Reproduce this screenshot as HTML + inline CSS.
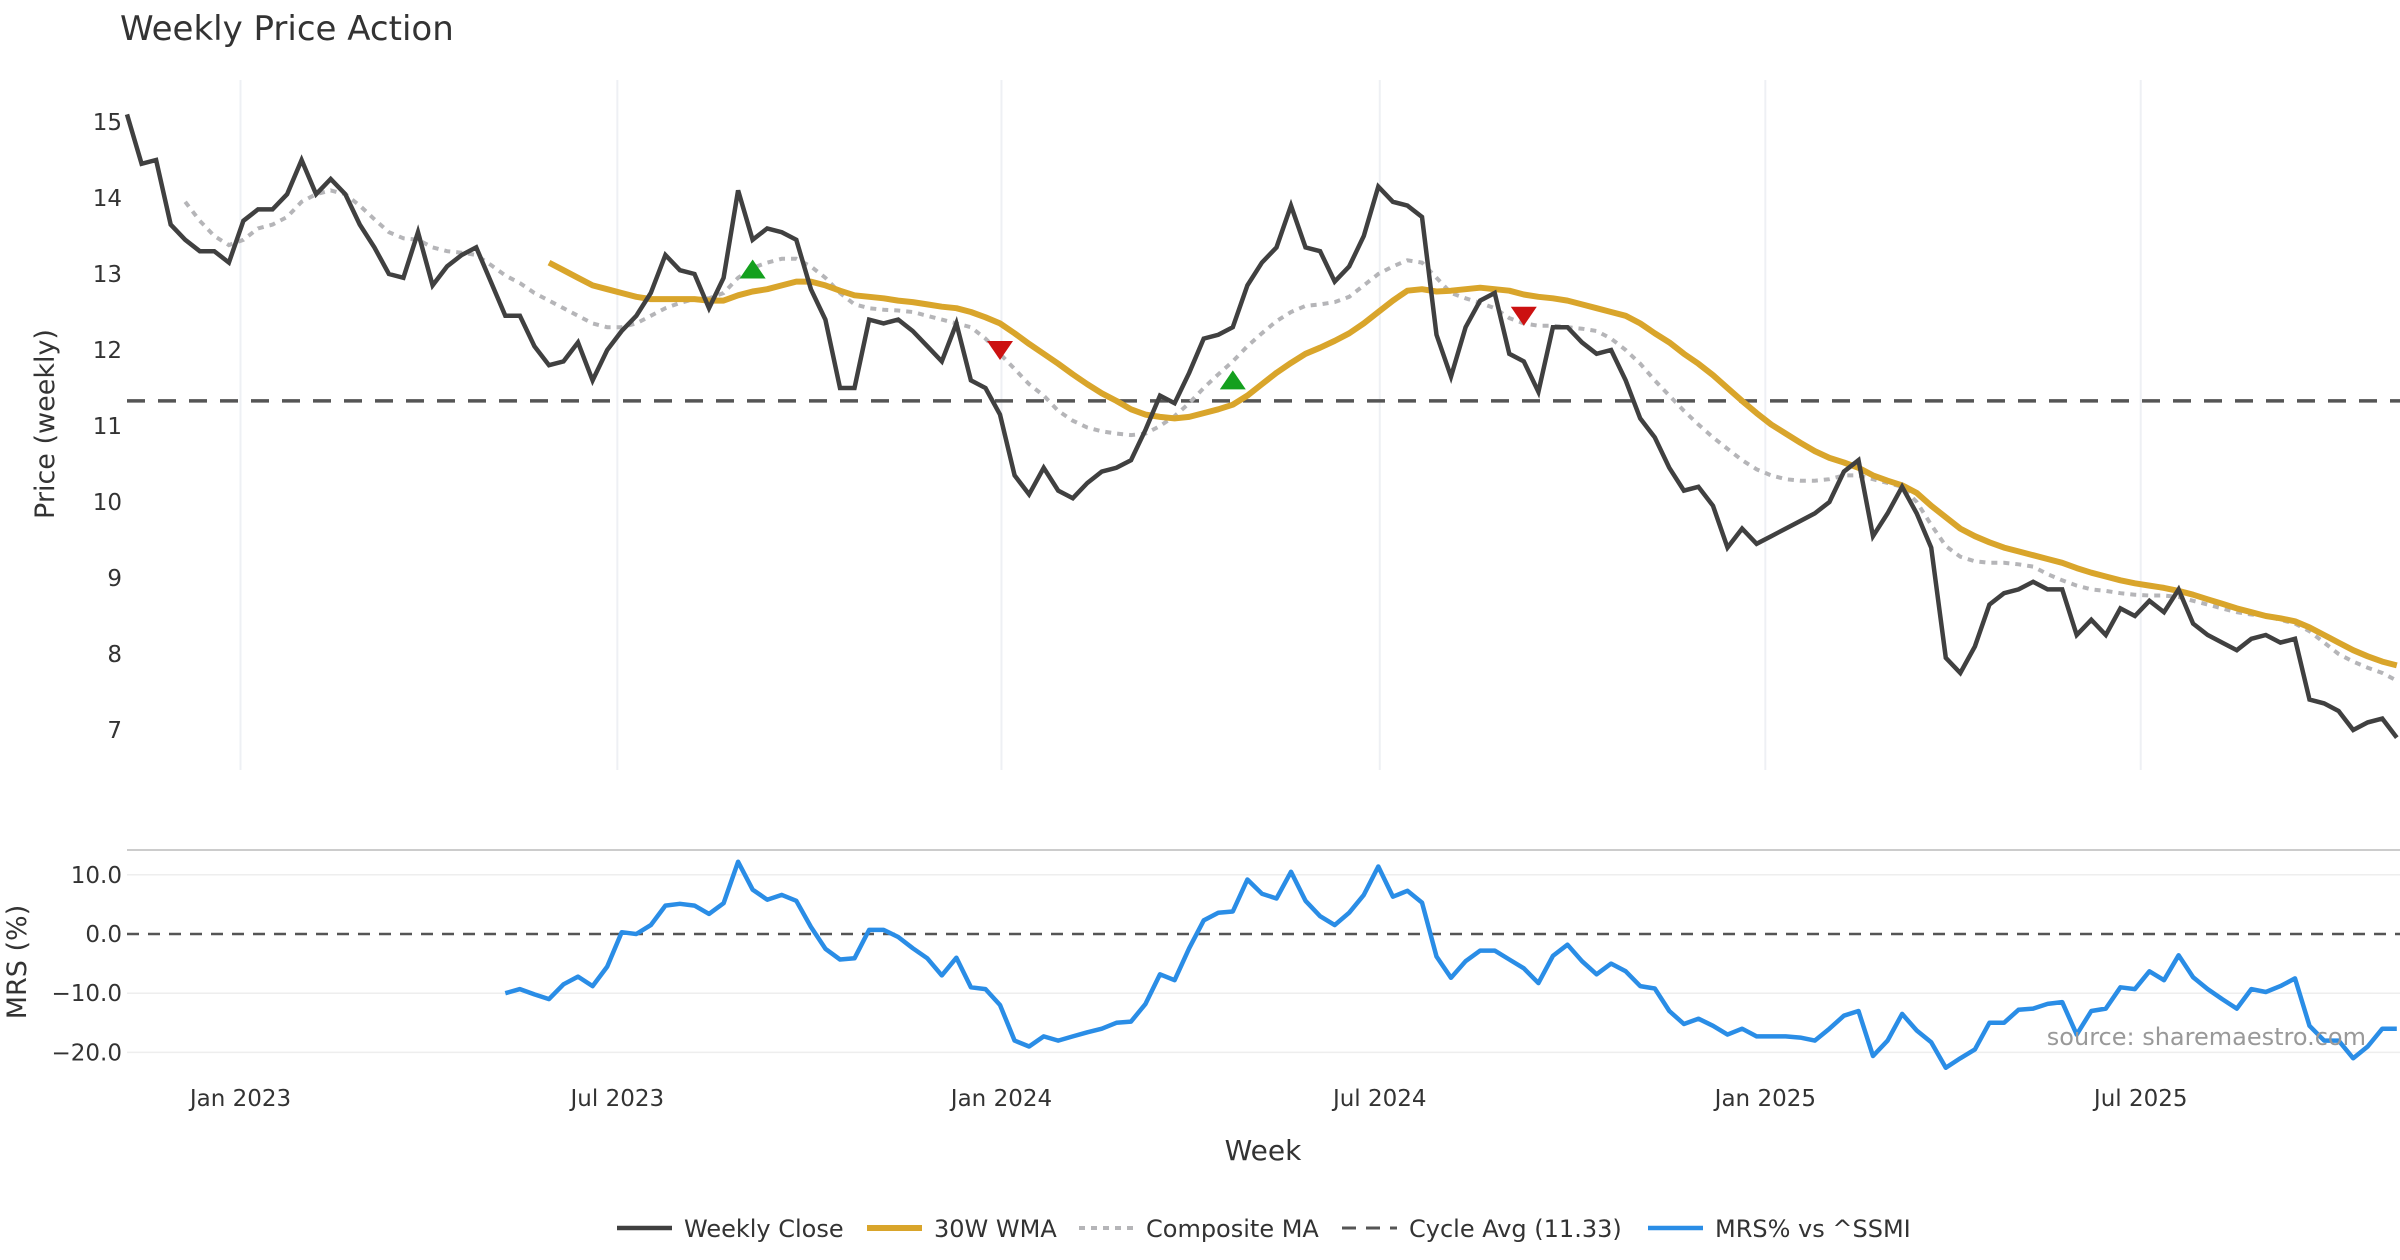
<!DOCTYPE html>
<html><head><meta charset="utf-8"><style>
html,body{margin:0;padding:0;background:#fff;}
svg{display:block;font-family:"DejaVu Sans","Liberation Sans",sans-serif;}
</style></head><body>
<svg id="chart" width="2400" height="1260" viewBox="0 0 2400 1260">
<text x="120" y="40" font-size="34" fill="#333">Weekly Price Action</text>
<g id="grid"></g>
<g id="axes"></g>
<g id="series"></g>
<text transform="translate(54,424) rotate(-90)" text-anchor="middle" font-size="27" fill="#333">Price (weekly)</text>
<text transform="translate(26,962) rotate(-90)" text-anchor="middle" font-size="27" fill="#333">MRS (%)</text>
<text x="1263" y="1160" text-anchor="middle" font-size="28" fill="#333">Week</text>
<text x="2366" y="1045" text-anchor="end" font-size="24" fill="#999">source: sharemaestro.com</text>
<g id="legend"></g>
</svg>
<script>
const closeVals=[15.1,14.45,14.5,13.65,13.45,13.3,13.3,13.15,13.7,13.85,13.85,14.05,14.5,14.05,14.25,14.05,13.65,13.35,13.0,12.95,13.55,12.85,13.1,13.25,13.35,12.9,12.45,12.45,12.05,11.8,11.85,12.1,11.6,12.0,12.25,12.45,12.75,13.25,13.05,13.0,12.55,12.95,14.1,13.45,13.6,13.55,13.45,12.8,12.4,11.5,11.5,12.4,12.35,12.4,12.25,12.05,11.85,12.35,11.6,11.5,11.15,10.35,10.1,10.45,10.15,10.05,10.25,10.4,10.45,10.55,10.95,11.4,11.3,11.7,12.15,12.2,12.3,12.85,13.15,13.35,13.9,13.35,13.3,12.9,13.1,13.5,14.15,13.95,13.9,13.75,12.2,11.65,12.3,12.65,12.75,11.95,11.85,11.45,12.3,12.3,12.1,11.95,12.0,11.6,11.1,10.85,10.45,10.15,10.2,9.95,9.4,9.65,9.45,9.55,9.65,9.75,9.85,10.0,10.4,10.55,9.55,9.85,10.2,9.85,9.4,7.95,7.75,8.1,8.65,8.8,8.85,8.95,8.85,8.85,8.25,8.45,8.25,8.6,8.5,8.7,8.55,8.85,8.4,8.25,8.15,8.05,8.2,8.25,8.15,8.2,7.4,7.35,7.25,7.0,7.1,7.15,6.9];
const wmaStart=29;
const wmaVals=[13.15,13.05,12.95,12.85,12.8,12.75,12.7,12.67,12.67,12.67,12.67,12.65,12.65,12.72,12.77,12.8,12.85,12.9,12.9,12.85,12.78,12.72,12.7,12.68,12.65,12.63,12.6,12.57,12.55,12.5,12.43,12.35,12.22,12.08,11.95,11.82,11.68,11.55,11.43,11.33,11.22,11.15,11.12,11.1,11.12,11.17,11.22,11.28,11.4,11.55,11.7,11.83,11.95,12.03,12.12,12.22,12.35,12.5,12.65,12.78,12.8,12.77,12.78,12.8,12.82,12.8,12.78,12.73,12.7,12.68,12.65,12.6,12.55,12.5,12.45,12.35,12.22,12.1,11.95,11.82,11.67,11.5,11.33,11.17,11.02,10.9,10.78,10.67,10.58,10.52,10.45,10.35,10.28,10.22,10.12,9.95,9.8,9.65,9.55,9.47,9.4,9.35,9.3,9.25,9.2,9.13,9.07,9.02,8.97,8.93,8.9,8.87,8.83,8.78,8.72,8.66,8.6,8.55,8.5,8.47,8.43,8.35,8.25,8.15,8.05,7.97,7.9,7.85];
const compStart=4;
const compVals=[13.95,13.7,13.5,13.38,13.45,13.6,13.65,13.75,13.95,14.05,14.1,14.05,13.9,13.72,13.55,13.47,13.45,13.35,13.3,13.28,13.25,13.12,12.98,12.88,12.75,12.65,12.55,12.45,12.35,12.3,12.3,12.35,12.45,12.55,12.62,12.67,12.68,12.75,12.95,13.08,13.15,13.2,13.2,13.1,12.95,12.75,12.6,12.55,12.53,12.52,12.5,12.45,12.4,12.35,12.3,12.15,11.95,11.75,11.55,11.4,11.2,11.07,10.98,10.93,10.9,10.88,10.9,11.0,11.13,11.3,11.5,11.68,11.85,12.05,12.22,12.38,12.5,12.58,12.6,12.63,12.7,12.85,13.0,13.1,13.18,13.15,12.95,12.75,12.68,12.62,12.55,12.42,12.35,12.32,12.32,12.3,12.28,12.25,12.15,12.0,11.82,11.6,11.4,11.2,11.02,10.85,10.7,10.55,10.43,10.35,10.3,10.28,10.28,10.3,10.35,10.35,10.3,10.25,10.2,10.0,9.7,9.42,9.28,9.22,9.2,9.2,9.18,9.15,9.05,8.97,8.9,8.85,8.83,8.8,8.78,8.77,8.77,8.75,8.7,8.65,8.6,8.55,8.52,8.5,8.45,8.4,8.3,8.15,8.0,7.9,7.82,7.75,7.65];
const cycleAvg=11.33;
const buyIdx=[43,76];
const buyVals=[13.06,11.6];
const sellIdx=[60,96];
const sellVals=[12.0,12.45];
const mrsStart=26;
const mrsVals=[-10,-9.3,-10.2,-11,-8.5,-7.2,-8.8,-5.5,0.3,0,1.5,4.8,5.1,4.8,3.4,5.2,12.2,7.5,5.8,6.6,5.6,1.2,-2.5,-4.3,-4.1,0.7,0.7,-0.5,-2.4,-4.1,-7,-4,-9,-9.3,-12,-18,-19,-17.3,-18,-17.3,-16.6,-16,-15,-14.8,-11.8,-6.8,-7.8,-2.4,2.3,3.6,3.8,9.2,6.8,6,10.5,5.6,3,1.5,3.6,6.6,11.4,6.3,7.3,5.3,-3.8,-7.4,-4.6,-2.8,-2.8,-4.3,-5.8,-8.3,-3.7,-1.8,-4.6,-6.8,-5,-6.3,-8.8,-9.2,-13,-15.2,-14.3,-15.5,-17,-16,-17.3,-17.3,-17.3,-17.5,-18,-16,-13.8,-13,-20.6,-18,-13.5,-16.3,-18.3,-22.6,-21,-19.5,-15,-15,-12.8,-12.6,-11.8,-11.5,-17,-13,-12.6,-9,-9.3,-6.3,-7.8,-3.6,-7.3,-9.3,-11,-12.6,-9.3,-9.8,-8.8,-7.5,-15.5,-18,-18,-21,-19,-16,-16];
const priceTicks=[7,8,9,10,11,12,13,14,15];
const mrsTicks=[10,0,-10,-20];
const mrsTickLabels=["10.0","0.0","\u221210.0","\u221220.0"];
const dateTickIdx=[7.8,33.7,60.1,86.1,112.6,138.4];
const dateTickLabels=["Jan 2023","Jul 2023","Jan 2024","Jul 2024","Jan 2025","Jul 2025"];

const NS="http://www.w3.org/2000/svg";
const X0=127,XSTEP=14.55;
function xs(i){return X0+i*XSTEP;}
function yp(v){return 122+(15-v)*76;}
function ym(v){return 934-v*5.92;}
function mk(tag,attrs,parent){const e=document.createElementNS(NS,tag);for(const k in attrs)e.setAttribute(k,attrs[k]);parent.appendChild(e);return e;}
const grid=document.getElementById('grid'),axes=document.getElementById('axes'),series=document.getElementById('series'),legend=document.getElementById('legend');

dateTickIdx.forEach((d,k)=>{
  const g=mk('line',{x1:xs(d),x2:xs(d),y1:80,y2:770,stroke:'#eef0f4','stroke-width':2},grid);
  
  
  const t=mk('text',{x:xs(d),y:1106,'text-anchor':'middle','font-size':23,fill:'#333'},axes);
  t.textContent=dateTickLabels[k];
  
  
});
priceTicks.forEach(v=>{
  const t=mk('text',{x:122,y:yp(v)+8,'text-anchor':'end','font-size':23,fill:'#333'},axes);
  t.textContent=v;
  
  
});
const sep=mk('line',{x1:127,x2:2400,y1:850,y2:850,stroke:'#ccc','stroke-width':2},grid);


mrsTicks.forEach((v,k)=>{
  if(v!==0){const g=mk('line',{x1:127,x2:2400,y1:ym(v),y2:ym(v),stroke:'#eee','stroke-width':1.5},grid);
  
  }
  const t=mk('text',{x:122,y:ym(v)+8,'text-anchor':'end','font-size':23,fill:'#333'},axes);
  t.textContent=mrsTickLabels[k];
  
  
});
const z=mk('line',{x1:127,x2:2400,y1:ym(0),y2:ym(0),stroke:'#555','stroke-width':2.5,'stroke-dasharray':'12 9'},series);


const ca=mk('line',{x1:127,x2:2400,y1:yp(cycleAvg),y2:yp(cycleAvg),stroke:'#555','stroke-width':3.5,'stroke-dasharray':'18 13'},series);



function pts(vals,start,yf){return vals.map((v,i)=>xs(start+i).toFixed(1)+','+yf(v).toFixed(1)).join(' ');}
const comp=mk('polyline',{points:pts(compVals,compStart,yp),fill:'none',stroke:'#b5b5b8','stroke-width':4,'stroke-dasharray':'6 6'},series);


const wma=mk('polyline',{points:pts(wmaVals,wmaStart,yp),fill:'none',stroke:'#d9a52b','stroke-width':6,'stroke-linejoin':'round'},series);


const cl=mk('polyline',{points:pts(closeVals,0,yp),fill:'none',stroke:'#404040','stroke-width':4.5,'stroke-linejoin':'miter'},series);


buyIdx.forEach((d,k)=>{const x=xs(d),y=yp(buyVals[k]);
  const p=mk('polygon',{points:`${x-13},${y+9} ${x+13},${y+9} ${x},${y-10}`,fill:'#14a01e'},series);
  
  });
sellIdx.forEach((d,k)=>{const x=xs(d),y=yp(sellVals[k]);
  const p=mk('polygon',{points:`${x-13},${y-9} ${x+13},${y-9} ${x},${y+10}`,fill:'#cc1111'},series);
  
  });
const mrs=mk('polyline',{points:pts(mrsVals,mrsStart,ym),fill:'none',stroke:'#2a8de6','stroke-width':4.5,'stroke-linejoin':'round'},series);



const legItems=[["Weekly Close",617,'#404040','',4.5],["30W WMA",867,'#d9a52b','',6],["Composite MA",1079,'#b5b5b8','6 6',4],["Cycle Avg (11.33)",1342,'#555','14 10',3],["MRS% vs ^SSMI",1648,'#2a8de6','',4.5]];
legItems.forEach(it=>{
  const l=mk('line',{x1:it[1],x2:it[1]+55,y1:1228,y2:1228,stroke:it[2],'stroke-width':it[4],'stroke-dasharray':it[3]},legend);
  
  
  const t=mk('text',{x:it[1]+67,y:1237,'font-size':24,fill:'#333'},legend);
  t.textContent=it[0];
  
  
});
</script>
</body></html>
